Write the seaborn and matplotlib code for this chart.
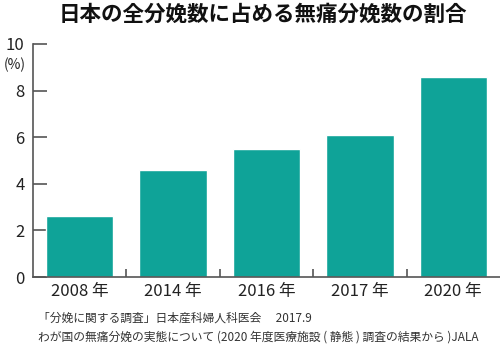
import matplotlib
matplotlib.use("Agg")
import matplotlib.pyplot as plt
import seaborn as sns
import pandas as pd

years = ["2008 年", "2014 年", "2016 年", "2017 年", "2020 年"]
rates = [2.6, 4.6, 5.5, 6.1, 8.6]
yticks = [0, 2, 4, 6, 8, 10]
sources = [
    "「分娩に関する調査」日本産科婦人科医会　 2017.9",
    "わが国の無痛分娩の実態について (2020 年度医療施設 ( 静態 ) 調査の結果から )JALA",
]

sns.set_style("white")
plt.rcParams["font.family"] = ["Noto Sans CJK JP", "DejaVu Sans"]

df = pd.DataFrame({"year": years, "rate": rates})

fig = plt.figure(figsize=(5, 3.52), dpi=100)
ax = fig.add_axes([0.066, 0.213, 0.934, 0.662])
sns.barplot(data=df, x="year", y="rate", color="#0fa398", width=0.72,
            saturation=1, ax=ax)

ax.set_ylim(0, 10)
ax.set_xlim(-0.5, 4.5)
ax.set_yticks(yticks)
ax.set_yticklabels([str(t) for t in yticks], fontsize=12, color="#222222")
ax.set_xticks([0.5, 1.5, 2.5, 3.5], minor=False)
ax.set_xticklabels([])
ax.set_xticks(range(len(years)), minor=True)
ax.set_xticklabels(years, minor=True, fontsize=12, color="#222222")
ax.tick_params(axis="x", which="major", bottom=True, direction="in",
               length=6, width=1.2, color="#555555")
ax.tick_params(axis="x", which="minor", bottom=True, length=0, pad=4)
ax.tick_params(axis="y", left=True, direction="in", length=10, width=1.2,
               color="#555555", pad=6)
ax.set_xlabel("")
ax.set_ylabel("")
for s in ["top", "right"]:
    ax.spines[s].set_visible(False)
for s in ["left", "bottom"]:
    ax.spines[s].set_color("#555555")
    ax.spines[s].set_linewidth(1.2)

fig.text(0.03, 0.815, "(%)", fontsize=10, color="#222222", ha="center", va="center")
fig.text(0.525, 0.96, "日本の全分娩数に占める無痛分娩数の割合", fontsize=15.5,
         fontweight="bold", ha="center", va="center", color="#111111")
fig.text(0.076, 0.097, sources[0], fontsize=8.5, color="#333333", va="center")
fig.text(0.076, 0.043, sources[1], fontsize=8.5, color="#333333", va="center")

fig.savefig("out.png", dpi=100)
